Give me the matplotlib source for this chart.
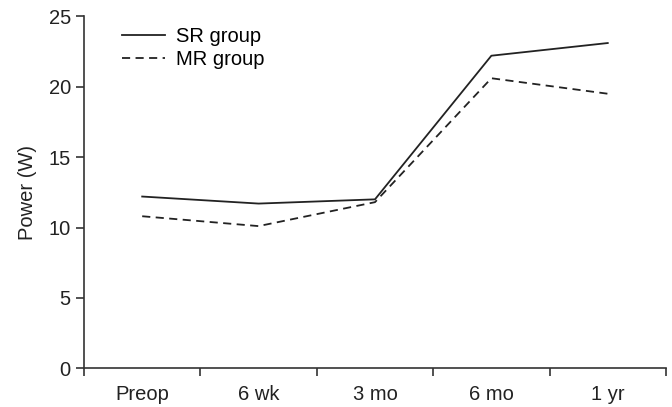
import matplotlib.pyplot as plt
import numpy as np

plt.rcParams['font.family'] = ['Liberation Sans', 'DejaVu Sans']

times = ['Preop', '6 wk', '3 mo', '6 mo', '1 yr']
sr_group = [12.2, 11.7, 12.0, 22.2, 23.1]
mr_group = [10.8, 10.1, 11.8, 20.6, 19.5]

col = '#333333'
fs = 14.5
fig, ax = plt.subplots(figsize=(6.72, 4.07), dpi=100)
fig.subplots_adjust(left=0.125, right=0.991, top=0.96, bottom=0.095)

x = np.arange(len(times))
ax.plot(x, sr_group, color='#222222', lw=1.3, label='SR group')
ax.plot(x, mr_group, color='#222222', lw=1.3, ls=(0, (4.5, 3)), label='MR group')

ax.set_xlim(-0.5, len(times) - 0.5)
ax.set_ylim(0, 25)
ax.set_yticks([0, 5, 10, 15, 20, 25])
ax.set_xticks(x)
ax.set_xticklabels(times)
ax.set_xticks(np.arange(len(times) + 1) - 0.5, minor=True)
ax.tick_params(axis='x', which='major', length=0, pad=12, labelsize=fs, colors='#222222')
ax.tick_params(axis='x', which='minor', length=5.5, width=1.2, color=col)
ax.tick_params(axis='y', length=6, width=1.2, color=col, labelsize=fs, labelcolor='#222222')
ax.set_ylabel('Power (W)', fontsize=fs, color='#222222', labelpad=8)

for s in ['top', 'right']:
    ax.spines[s].set_visible(False)
for s in ['left', 'bottom']:
    ax.spines[s].set_color(col)
    ax.spines[s].set_linewidth(1.2)

ax.legend(loc='upper left', bbox_to_anchor=(0.035, 1.02), frameon=False, fontsize=fs,
          handlelength=2.1, handletextpad=0.55, labelspacing=0.2)

fig.savefig('out.png')
